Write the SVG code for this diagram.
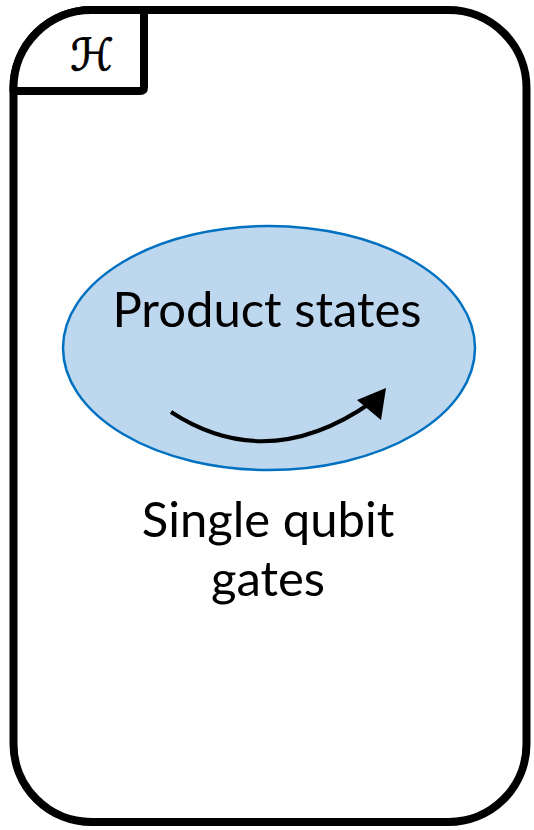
<svg xmlns="http://www.w3.org/2000/svg" width="534" height="830" viewBox="0 0 534 830">
<style>
.frame{fill:#fff;stroke:#000;stroke-width:8}
.lbl{font-family:Lato,"Open Sans","Liberation Sans",sans-serif;fill:#000;text-anchor:middle;font-size:49px}
</style>
<g id="space">
<rect class="frame" x="13.5" y="10" width="513" height="812" rx="78" ry="78"/>
<path d="M13.5,91 L13.5,88 A78,78 0 0 1 91.5,10 L144,10 L144,87 Q144,91 140,91 Z" fill="#fff" stroke="#000" stroke-width="8" stroke-linejoin="round"/>
<text x="92" y="70" font-family="DejaVu Sans,sans-serif" font-size="44" text-anchor="middle" stroke="#000" stroke-width="0.9">ℋ</text>
</g>
<g id="product-states">
<ellipse cx="269" cy="348" rx="206" ry="122" fill="#BDD7EE" stroke="#0070C0" stroke-width="2.5"/>
<text class="lbl" x="267" y="327">Product states</text>
</g>
<g id="connectors">
<path d="M171,412 Q268,475 372,402" fill="none" stroke="#000" stroke-width="4"/>
<polygon points="357,400 386,388 381,420" fill="#000"/>
</g>
<g id="gates-label">
<text class="lbl" x="268" y="537">Single qubit</text>
<text class="lbl" x="268" y="596">gates</text>
</g>
</svg>
